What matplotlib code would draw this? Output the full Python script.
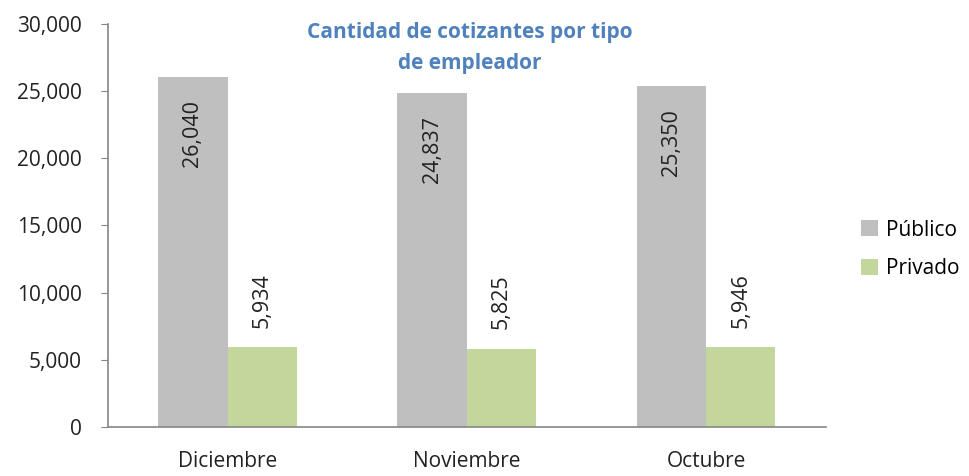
import matplotlib
matplotlib.use("Agg")
import matplotlib.pyplot as plt
import numpy as np
from matplotlib.ticker import FuncFormatter

categories = ["Diciembre", "Noviembre", "Octubre"]
publico = [26040, 24837, 25350]
privado = [5934, 5825, 5946]
series_names = ["Público", "Privado"]
title = "Cantidad de cotizantes por tipo\nde empleador"

plt.rcParams['font.family'] = ['Open Sans', 'DejaVu Sans']

fig = plt.figure(figsize=(9.69, 4.76), dpi=100)
ax = fig.add_axes([0.1115, 0.103, 0.7405, 0.8466])

x = np.arange(len(categories))
w = 0.29
c_pub = "#BFBFBF"
c_pri = "#C3D69B"
ax.bar(x - w/2, publico, w, color=c_pub, label=series_names[0])
ax.bar(x + w/2, privado, w, color=c_pri, label=series_names[1])

for xi, v in zip(x - w/2, publico):
    ax.text(xi, v - 1700, f"{v:,}", rotation=90, ha="center", va="top",
            fontsize=15.5, color="#222222")
for xi, v in zip(x + w/2, privado):
    ax.text(xi, v + 1450, f"{v:,}", rotation=90, ha="center", va="bottom",
            fontsize=15.5, color="#222222")

ax.set_xlim(-0.5, 2.5)
ax.set_ylim(0, 30000)
ax.set_yticks(range(0, 30001, 5000))
ax.yaxis.set_major_formatter(FuncFormatter(lambda v, p: f"{int(v):,}"))
ax.set_xticks(x)
ax.set_xticklabels(categories)
ax.tick_params(axis="x", length=0, pad=17, labelsize=15, labelcolor="#222222")
ax.tick_params(axis="y", length=5, color="#868686", labelsize=15, pad=14,
               labelcolor="#222222")
for s in ["top", "right"]:
    ax.spines[s].set_visible(False)
for s in ["left", "bottom"]:
    ax.spines[s].set_color("#868686")
    ax.spines[s].set_linewidth(1.2)

fig.text(0.485, 0.9, title, ha="center", va="center", fontsize=15,
         fontweight="bold", color="#4F81BD", linespacing=1.62)

ax.legend(loc="center left", bbox_to_anchor=(0.889, 0.476),
          bbox_transform=fig.transFigure, frameon=False, borderaxespad=0,
          borderpad=0, fontsize=15, handlelength=0.8, handleheight=0.8,
          handletextpad=0.4, labelspacing=0.85)

fig.savefig("out.png", dpi=100, facecolor="white")
